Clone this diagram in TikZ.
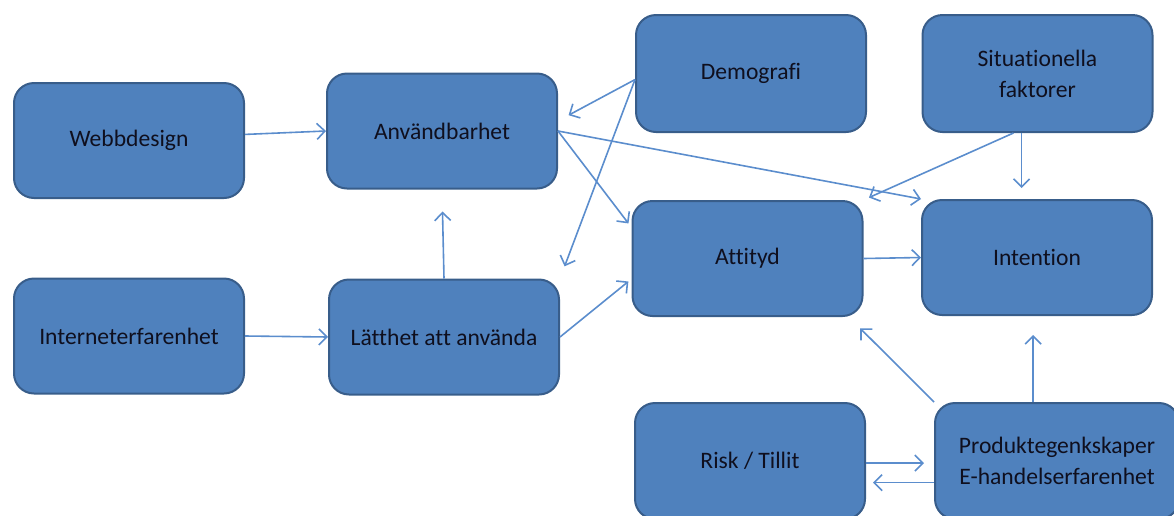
\documentclass[tikz,border=0pt]{standalone}
\usepackage{fontspec}
\setmainfont{Carlito}[Ligatures=NoCommon]
\usepackage{xcolor}
\usepackage{tikz}
\usetikzlibrary{arrows.meta, positioning}
\definecolor{boxblue}{RGB}{79,129,189}
\definecolor{boxedge}{RGB}{56,93,138}
\definecolor{arrowblue}{RGB}{91,141,205}
\definecolor{textdark}{RGB}{15,15,30}
\tikzset{
  box/.style={rectangle, rounded corners=10pt, minimum width=115pt,
    minimum height=57.5pt, draw=boxedge, line width=1pt, fill=boxblue,
    text=textdark, align=center, font=\fontsize{11.8}{15.5}\selectfont},
  arrow/.style={-{Straight Barb[length=4pt,width=8pt]}, line width=0.8pt,
    color=arrowblue},
}

\begin{document}
\begin{tikzpicture}[x=0.5pt, y=-0.5pt]
  \useasboundingbox (0,0) rectangle (1174,515);

  \node[box] (web) at (129,140.5) {Webbdesign};
  \node[box] (anv) at (442,131) {Användbarhet};
  \node[box, minimum height=58.5pt] (demo) at (751,73.5) {Demografi};
  \node[box, minimum height=58.5pt] (sit) at (1037.5,73.5) {Situationella\\faktorer};
  \node[box] (att) at (747.5,258.5) {Attityd};
  \node[box] (int) at (1037,257.5) {Intention};
  \node[box] (inet) at (129,336) {Interneterfarenhet};
  \node[box] (latt) at (444,337) {Lätthet att använda};
  \node[box, minimum height=58pt] (risk) at (750,461) {Risk / Tillit};
  \node[box, minimum width=122pt, minimum height=58pt]
    (prod) at (1057,461) {Produktegenkskaper\\E-handelserfarenhet};

  \draw[arrow] (web.3) -- (anv.west);
  \draw[arrow] (inet.east) -- (latt.west);
  \draw[arrow, shorten >=11pt] (latt.north) -- (anv.south);
  \draw[arrow, shorten >=6pt] (demo.183) -- (anv.5);
  \draw[arrow, shorten >=6.5pt] (demo.183) -- (latt.north east);
  \draw[arrow, shorten >=2.5pt] (anv.east) -- (att.165);
  \draw[arrow] (anv.east) -- (int.north west);
  \draw[arrow, shorten >=2pt] (latt.east) -- (att.190);
  \draw[arrow, shorten >=3pt] (sit.248) -- (att.north east);
  \draw[arrow, shorten >=5.5pt] (sit.255) -- (sit.255 |- int.north);
  \draw[arrow] (att.east) -- (int.west);
  \draw[arrow, shorten >=8pt] (prod.north west) -- (att.330);
  \draw[arrow, shorten >=9.5pt] (prod.112) -- (prod.112 |- int.south);
  \draw[arrow, shorten >=5pt] (risk.359) -- (risk.359 -| prod.west);
  \draw[arrow, shorten >=3.5pt] (prod.190) -- (prod.190 -| risk.east);
\end{tikzpicture}
\end{document}
